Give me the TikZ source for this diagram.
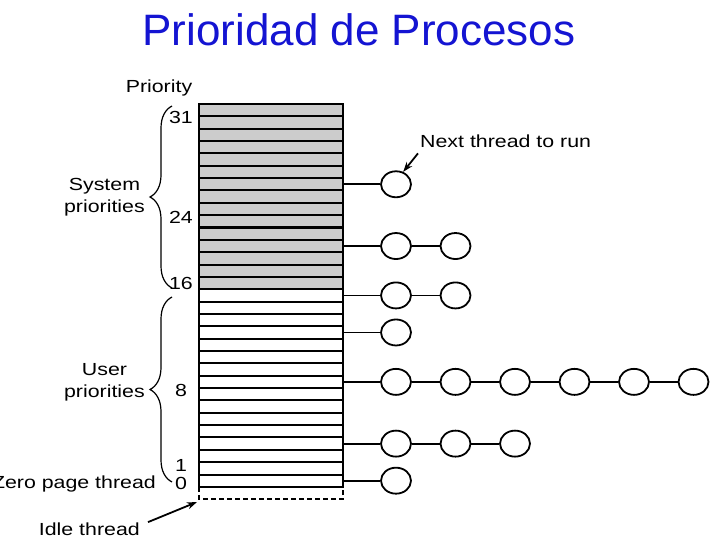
\documentclass[tikz,border=0pt]{standalone}
\usepackage{fontspec}
\setmainfont{Liberation Sans}
\newfontfamily\lblfont{Liberation Sans}[FakeStretch=1.22]
\usetikzlibrary{shapes.geometric,decorations.pathreplacing,arrows.meta}
\definecolor{titleblue}{RGB}{20,20,210}
\definecolor{sysgray}{RGB}{204,204,204}
\tikzset{
  thr/.style={draw,ellipse,line width=1.8pt,minimum width=30pt,minimum height=26pt,inner sep=0pt},
  lbl/.style={font=\lblfont\fontsize{17.5}{22}\selectfont,inner sep=0pt},
  pointer/.style={-{Stealth[length=10pt,width=7pt]},line width=1.8pt},
  prbrace/.style={decorate,decoration={brace,amplitude=22pt},line width=1.2pt},
}
\begin{document}
\begin{tikzpicture}[x=1pt,y=-1pt]
  \useasboundingbox (0,0) rectangle (720,540);
  \node[font=\fontsize{44}{50}\selectfont,text=titleblue,anchor=base,inner sep=0pt] (title) at (359,46) {Prioridad de Procesos};
  % priority table
  \def\rowh{12.35}
  \foreach \i in {0,...,14}
    \filldraw[fill=sysgray,line width=2pt] (199,{104+\i*\rowh}) rectangle (343,{104+(\i+1)*\rowh});
  \foreach \i in {15,...,30}
    \draw[line width=2pt] (199,{104+\i*\rowh}) rectangle (343,{104+(\i+1)*\rowh});
  \draw[dash pattern=on 5pt off 3pt,line width=1.2pt] (199,487) -- (199,499) -- (343,499) -- (343,487);
  % thread queues
  \foreach \r/\n in {6/1,11/2,15/2,18/1,22/6,27/3,30/1} {
    \coordinate (q\r) at (343,{104+(\r+0.5)*\rowh});
    \foreach \k in {1,...,\n} {
      \node[thr] (t\r-\k) at ({396+(\k-1)*59.5},{104+(\r+0.5)*\rowh}) {};
      \pgfmathtruncatemacro\prevk{\k-1}
      \ifnum\k>1 \draw[line width=1.8pt] (t\r-\prevk) -- (t\r-\k); \fi
    }
    \draw[line width=1.8pt] (q\r) -- (t\r-1);
  }
  % priority numbers
  \foreach \p/\y in {31/117,24/217,16/283,8/390,1/465,0/483}
    \node[lbl] (p\p) at (181,\y) {\p};
  \node[lbl,anchor=base] (prio) at (159,93) {Priority};
  % braces
  \draw[prbrace] (172,288) -- (172,106);
  \draw[prbrace] (172,482) -- (172,297);
  \node[lbl,align=center,anchor=east] (sys) at (145,197) {System\\priorities};
  \node[lbl,align=center,anchor=east] (usr) at (145,382) {User\\priorities};
  \node[lbl,anchor=base east] (zero) at (156,488) {Zero page thread};
  \node[lbl,anchor=base east] (idle) at (140,535) {Idle thread};
  \node[lbl,anchor=base west] (next) at (420,148) {Next thread to run};
  \coordinate (idletip) at (197,502);
  \draw[pointer] ([xshift=8pt]idle.north east) -- (idletip);
  \draw[pointer] ([shift={(-2pt,-5pt)}]next.south west) -- (t6-1.60);
\end{tikzpicture}
\end{document}
